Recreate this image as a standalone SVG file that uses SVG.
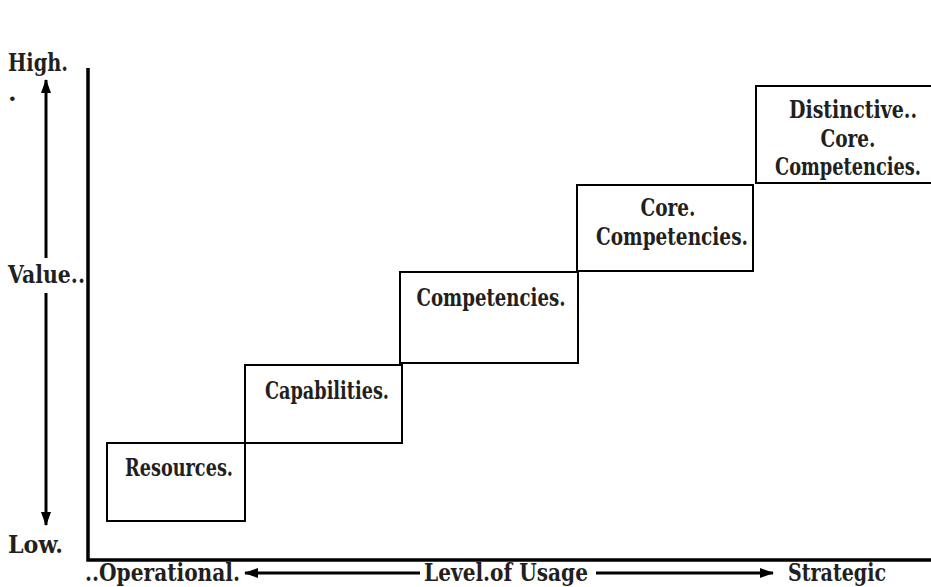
<svg xmlns="http://www.w3.org/2000/svg" width="931" height="587" viewBox="0 0 931 587">
<style>
.t{font-family:"DejaVu Serif","Liberation Serif",serif;font-weight:bold;fill:#231f20}
.ax{font-size:25px}
.bx{font-size:24px;text-anchor:middle}
.box{fill:#fff;stroke:#000;stroke-width:2}
.axis{stroke:#000;stroke-width:3.5;fill:none}
.arr{stroke:#000;stroke-width:3;fill:none}
</style>
<defs>
<marker id="ah" viewBox="0 0 14 10" refX="13" refY="5" markerWidth="14" markerHeight="10" markerUnits="userSpaceOnUse" orient="auto">
<path d="M0,0 L14,5 L0,10 Z" fill="#000"/>
</marker>
</defs>
<g id="connectors">
<path class="axis" d="M88,68 V560 H931"/>
<line class="arr" x1="46" y1="258" x2="46" y2="80" marker-end="url(#ah)"/>
<line class="arr" x1="46" y1="293" x2="46" y2="525" marker-end="url(#ah)"/>
<line class="arr" x1="420" y1="573" x2="245" y2="573" marker-end="url(#ah)"/>
<line class="arr" x1="596" y1="573" x2="773" y2="573" marker-end="url(#ah)"/>
</g>
<g id="labels">
<text class="t ax" x="8" y="71" textLength="60" lengthAdjust="spacingAndGlyphs">High.</text>
<text class="t ax" x="8" y="101">.</text>
<text class="t ax" x="8" y="283" textLength="77" lengthAdjust="spacingAndGlyphs">Value..</text>
<text class="t ax" x="8" y="553" textLength="55" lengthAdjust="spacingAndGlyphs">Low.</text>
<text class="t ax" x="85" y="581" textLength="155" lengthAdjust="spacingAndGlyphs">..Operational.</text>
<text class="t ax" x="424" y="581" textLength="164" lengthAdjust="spacingAndGlyphs">Level.of Usage</text>
<text class="t ax" x="788" y="581" textLength="98" lengthAdjust="spacingAndGlyphs">Strategic</text>
</g>
<g id="resources">
<rect class="box" x="107" y="443" width="138" height="78"/>
<text class="t bx" x="179" y="476" textLength="108" lengthAdjust="spacingAndGlyphs">Resources.</text>
</g>
<g id="capabilities">
<rect class="box" x="245" y="365" width="157" height="78"/>
<text class="t bx" x="327" y="399" textLength="124" lengthAdjust="spacingAndGlyphs">Capabilities.</text>
</g>
<g id="competencies">
<rect class="box" x="400" y="272" width="178" height="91"/>
<text class="t bx" x="491" y="306" textLength="149" lengthAdjust="spacingAndGlyphs">Competencies.</text>
</g>
<g id="core-competencies">
<rect class="box" x="577" y="185" width="176" height="86"/>
<text class="t bx" x="668" y="216" textLength="55" lengthAdjust="spacingAndGlyphs">Core.</text>
<text class="t bx" x="672" y="245" textLength="152" lengthAdjust="spacingAndGlyphs">Competencies.</text>
</g>
<g id="distinctive-core-competencies">
<rect class="box" x="756" y="86" width="176" height="97"/>
<text class="t bx" x="853" y="118" textLength="128" lengthAdjust="spacingAndGlyphs">Distinctive..</text>
<text class="t bx" x="848" y="147" textLength="55" lengthAdjust="spacingAndGlyphs">Core.</text>
<text class="t bx" x="848" y="175" textLength="146" lengthAdjust="spacingAndGlyphs">Competencies.</text>
</g>
</svg>
